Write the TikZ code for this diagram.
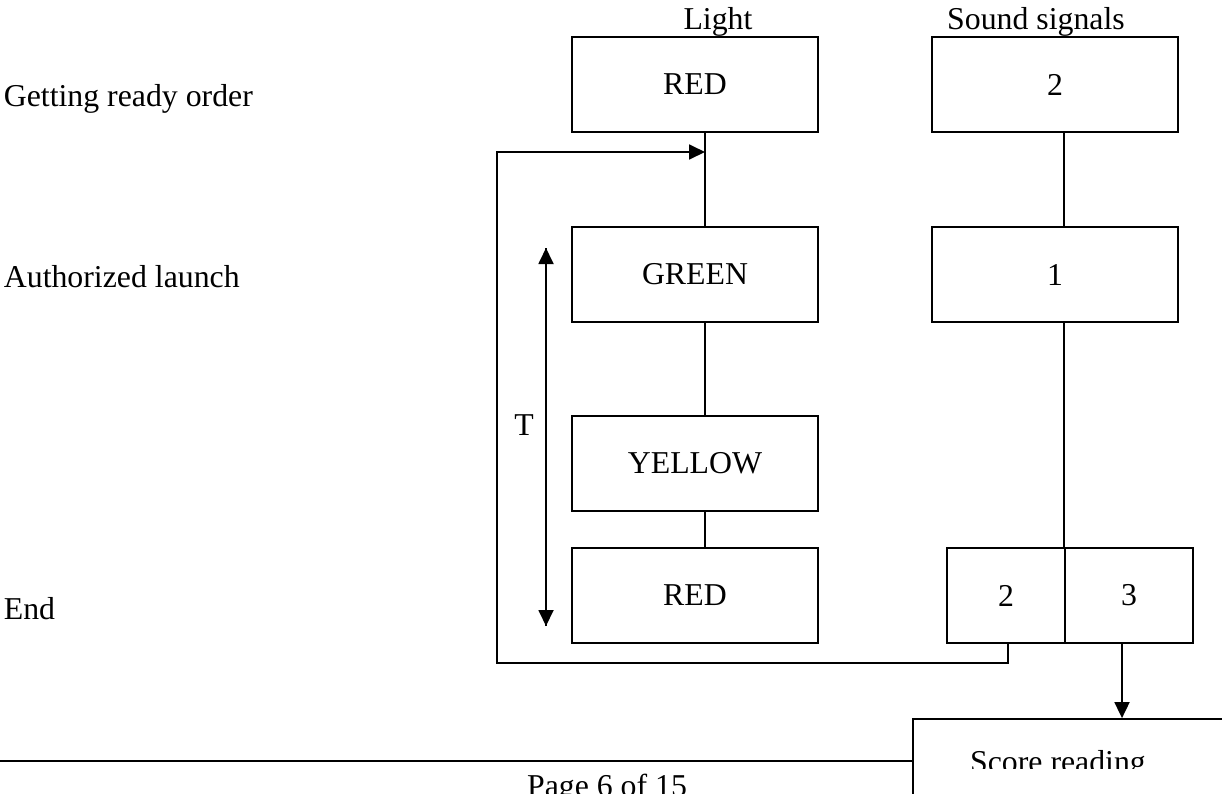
\documentclass[tikz,border=0pt]{standalone}
\usepackage{xcolor}
\usepackage{fontspec}
\setmainfont{Liberation Serif}
\usepackage{tikz}
\usetikzlibrary{arrows.meta}

\begin{document}
\begin{tikzpicture}[x=1pt, y=-1pt, line width=1.8pt,
    font=\fontsize{31.8}{38}\selectfont,
    lightbox/.style={draw, minimum width=246pt, minimum height=95pt, inner sep=0pt},
    cell/.style={draw, minimum height=95pt, inner sep=0pt},
    arr/.style={-{Triangle[length=16pt, width=15pt]}},
    txt/.style={draw=none, inner sep=0pt}]
             \clip (0,0) rectangle (1222,793);

             % row and column labels
             \node[txt, anchor=base] (light) at (718, 29) {Light};
             \node[txt, anchor=base] (sound) at (1036, 29) {Sound signals};
             \node[txt, anchor=base west] (ready) at (3, 106) {Getting ready order};
             \node[txt, anchor=base west] (launch) at (3, 287) {Authorized launch};
             \node[txt, anchor=base west] (end) at (3, 619) {End};

             % light column
             \node[lightbox] (red1) at (695, 84.5) {RED};
             \node[lightbox] (green) at (695, 274.5) {GREEN};
             \node[lightbox] (yellow) at (695, 463.5) {YELLOW};
             \node[lightbox] (red2) at (695, 595.5) {RED};

             % sound column
             \node[lightbox] (two) at (1055, 84.5) {2};
             \node[lightbox] (one) at (1055, 274.5) {1};
             \node[cell, minimum width=118pt] (endtwo) at (1006, 595.5) {2};
             \node[cell, minimum width=128pt] (endthree) at (1129, 595.5) {3};

             \draw ([xshift=10pt]red1.south) -- ([xshift=10pt]green.north);
             \draw ([xshift=10pt]green.south) -- ([xshift=10pt]yellow.north);
             \draw ([xshift=10pt]yellow.south) -- ([xshift=10pt]red2.north);
             \draw (endthree.north west |- two.south) -- (endthree.north west |- one.north);
             \draw (endthree.north west |- one.south) -- (endthree.north west);

             % duration T
             \coordinate (ttop) at (546, 248);
             \coordinate (tbot) at (546, 626);
             \draw[arr] (tbot) -- (ttop);
             \draw[arr] (ttop) -- (tbot);
             \node[txt, anchor=base] (t) at (524, 435) {T};

             % back to the start
             \coordinate (loopl) at (497, 663);
             \coordinate (loopin) at (705, 152);
             \draw[arr] ([xshift=2pt]endtwo.south) |- (loopl) |- (loopin);

             % score reading
             \node[draw, minimum width=400pt, minimum height=150pt, inner sep=0pt] (score) at (1113, 794) {};
             \draw[arr] ([xshift=-7pt]endthree.south) -- ([xshift=-7pt]endthree.south |- score.north);
             \begin{scope}
               \clip (913, 719) rectangle (1222, 768);
               \node[txt, anchor=base] (scoretxt) at (1058, 772) {Score reading};
             \end{scope}

             % page footer
             \coordinate (rule) at (0, 761);
             \draw[line width=2.2pt] (rule) -- (rule -| score.west);
             \node[txt, anchor=base] (page) at (607, 796) {Page 6 of 15};
             \end{tikzpicture}
\end{document}
